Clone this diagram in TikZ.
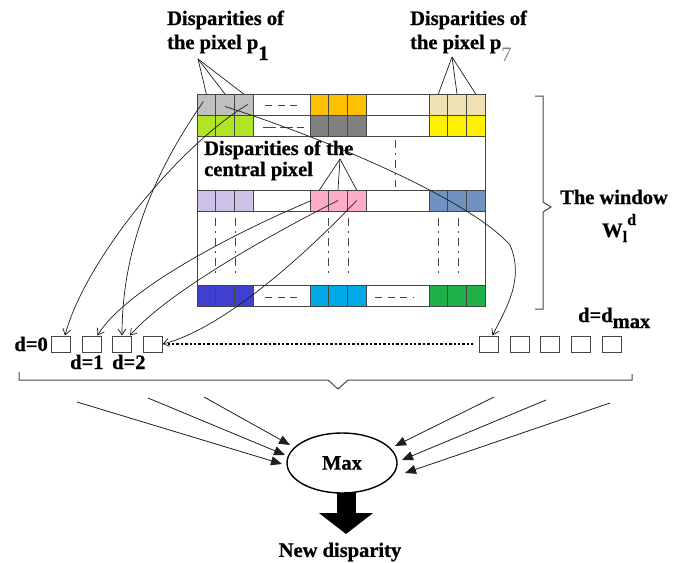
\documentclass[tikz,border=0pt]{standalone}
\usepackage{fontspec}
\setmainfont{Liberation Serif}[BoldFeatures={FakeBold=0.8}]
\usetikzlibrary{arrows.meta,shapes.geometric}
\definecolor{gridc}{RGB}{70,70,70}
\definecolor{cgray}{RGB}{192,192,192}
\definecolor{corange}{RGB}{255,192,0}
\definecolor{cbeige}{RGB}{238,226,180}
\definecolor{cgreen}{RGB}{176,228,36}
\definecolor{cdgray}{RGB}{128,128,128}
\definecolor{cyellow}{RGB}{255,240,0}
\definecolor{clav}{RGB}{204,194,232}
\definecolor{cpink}{RGB}{255,172,202}
\definecolor{csteel}{RGB}{112,146,192}
\definecolor{cblue}{RGB}{64,64,208}
\definecolor{ccyan}{RGB}{0,168,230}
\definecolor{cgreenb}{RGB}{32,176,72}
\definecolor{linec}{RGB}{30,30,30}
\begin{document}
\begin{tikzpicture}[x=1pt,y=-1pt,
  cellbox/.style={draw=gridc, line width=0.8pt, minimum width=18.67pt, minimum height=21pt, inner sep=0pt, outer sep=0pt},
  dbox/.style={draw=gridc, line width=1pt, minimum width=19pt, minimum height=16pt, inner sep=0pt},
  lbl/.style={font=\fontsize{20.5}{24}\selectfont\bfseries, inner sep=0pt},
  fan/.style={draw=linec, line width=0.7pt},
  conn/.style={draw=linec, line width=0.7pt, -{Straight Barb[length=6pt,width=8pt]}},
  inarr/.style={draw=linec, line width=0.8pt, -{Triangle[length=11pt,width=9pt]}},
  hdash/.style={draw=gridc, line width=1pt, dash pattern=on 7pt off 5.5pt},
  vdash/.style={draw=gridc, line width=1pt, dash pattern=on 8pt off 5pt on 2pt off 5pt},
  brace/.style={draw=gridc, line width=1pt},
  dotline/.style={draw=black, line width=2.6pt, dash pattern=on 2.4pt off 2pt}
]
\useasboundingbox (0,0) rectangle (685,562);

% window frame
\node[draw=gridc, line width=0.8pt, minimum width=288pt, minimum height=212pt, inner sep=0pt] (win) at (341,200) {};

% rows of cells
\foreach \r/\y/\ca/\cb/\cc in {1/104.5/cgray/corange/cbeige, 2/125.5/cgreen/cdgray/cyellow, 3/200.5/clav/cpink/csteel, 4/295.5/cblue/ccyan/cgreenb} {
  \foreach \i in {1,2,3} {
    \node[cellbox, fill=\ca] (A\r\i) at ({197+18.667*(\i-0.5)},\y) {};
    \node[cellbox, fill=\cb] (B\r\i) at ({310+18.667*(\i-0.5)},\y) {};
    \node[cellbox, fill=\cc] (C\r\i) at ({429+18.667*(\i-0.5)},\y) {};
  }
  \node[cellbox, fill=white, minimum width=57pt] (W\r a) at (281.5,\y) {};
  \node[cellbox, fill=white, minimum width=63pt] (W\r b) at (397.5,\y) {};
}

% dashes inside the window
\draw[hdash] (265,105) -- (298,105);
\draw[gridc, line width=1pt, dash pattern=on 13pt off 4pt] (263,127) -- (304,127);
\draw[hdash] (265,297) -- (298,297);
\draw[hdash] (375,297) -- (413,297);
\draw[vdash] (395,140) -- (395,187);
\foreach \x in {215,235,328,348,438,458} \draw[vdash] (\x,218) -- (\x,277);

% labels
\node[lbl, anchor=base west] (p1a) at (167,25) {Disparities of};
\node[lbl, anchor=base west] (p1b) at (167,49) {the pixel p\raisebox{-11pt}{1}};
\node[lbl, anchor=base west] (p7a) at (410,25) {Disparities of};
\node[lbl, anchor=base west] (p7b) at (410,49) {the pixel p\raisebox{-12pt}{\mdseries\color{gray}7}};
\node[lbl, anchor=base west] (cpa) at (204,155) {Disparities of the};
\node[lbl, anchor=base west] (cpb) at (204,176) {central pixel};
\node[lbl, anchor=base west] (twin) at (560,204) {The window};
\node[lbl, anchor=base west] (wld) at (602,237) {W\rlap{\raisebox{-5pt}{\fontsize{16}{16}\selectfont l}}\hspace{4.5pt}\raisebox{12pt}{\fontsize{16}{16}\selectfont d}};

% fans
\coordinate (ap1) at (198,59);
\coordinate (ap7) at (452,57);
\coordinate (apc) at (340,159);
\foreach \i in {1,2,3} {
  \draw[fan] (ap1) -- (A1\i.north);
  \draw[fan] (ap7) -- (C1\i.north);
  \draw[fan] (apc) -- (B3\i.north);
}

% disparity boxes
\foreach \i/\x in {1/61,2/91.5,3/122,4/152.5,5/488.5,6/519.5,7/550,8/580.5,9/611.5}
  \node[dbox] (b\i) at (\x,344) {};
\node[lbl, anchor=base east] (d0) at (48,351) {d=0};
\node[lbl, anchor=base west] (d1) at (70,369) {d=1};
\node[lbl, anchor=base west] (d2) at (112,369) {d=2};
\node[lbl, anchor=base west] (dm) at (578,322) {d=d\raisebox{-6pt}{max}};

\draw[dotline] ([xshift=5pt]b4.east) -- ([xshift=-6pt]b5.west);

% connectors from cells to boxes
\draw[conn] ([shift={(-3,-3)}]A11.center) .. controls (170,150) and (122,230) .. (b3.north);
\draw[conn] ([xshift=4pt]A13.center) .. controls (180,145) and (85,260) .. ([xshift=4pt]b1.north);
\draw[conn] ([yshift=-2pt]A12.center) .. controls (330,140) and (470,200) .. (510,245)
   .. controls (525,280) and (505,310) .. ([xshift=4pt]b5.north);
\draw[conn] ([xshift=-8pt]B31.center) .. controls (230,235) and (125,290) .. ([xshift=6pt]b2.north);
\draw[conn] (B32.center) .. controls (260,240) and (165,295) .. ([xshift=8pt]b3.north);
\draw[conn] (B33.center) .. controls (300,260) and (220,330) .. (b4.east);

% bottom brace
\draw[brace] (19,372) -- (19,380) -- (328,380) -- (338,389) -- (348,380) -- (632,380) -- (632,374);
% right brace
\draw[brace] (535,96) -- (543,96) -- (543,202) -- (551,207) -- (543,212) -- (543,309) -- (535,309);

% big arrow and Max
\coordinate (atop) at (346,486);
\coordinate (atip) at (346,534);
\draw[line width=19pt, -{Triangle[length=21pt,width=53pt]}] (atop) -- (atip);
\node[ellipse, draw=black, line width=1.4pt, fill=white, minimum width=110pt, minimum height=60pt, inner sep=0pt, font=\fontsize{20.5}{24}\selectfont\bfseries] (mx) at (342,463) {Max};
\node[lbl] (nd) at (340,552) {New disparity};

% inputs to Max
\foreach \n/\sx/\sy/\tx/\ty in {1/77/402/282/464, 2/148/398/285/455, 3/204/397/290/445, 4/494/397/395/446, 5/546/400/402/460, 6/610/403/405/473} {
  \coordinate (s\n) at (\sx,\sy);
  \coordinate (t\n) at (\tx,\ty);
  \draw[inarr] (s\n) -- (t\n);
}
\end{tikzpicture}
\end{document}
